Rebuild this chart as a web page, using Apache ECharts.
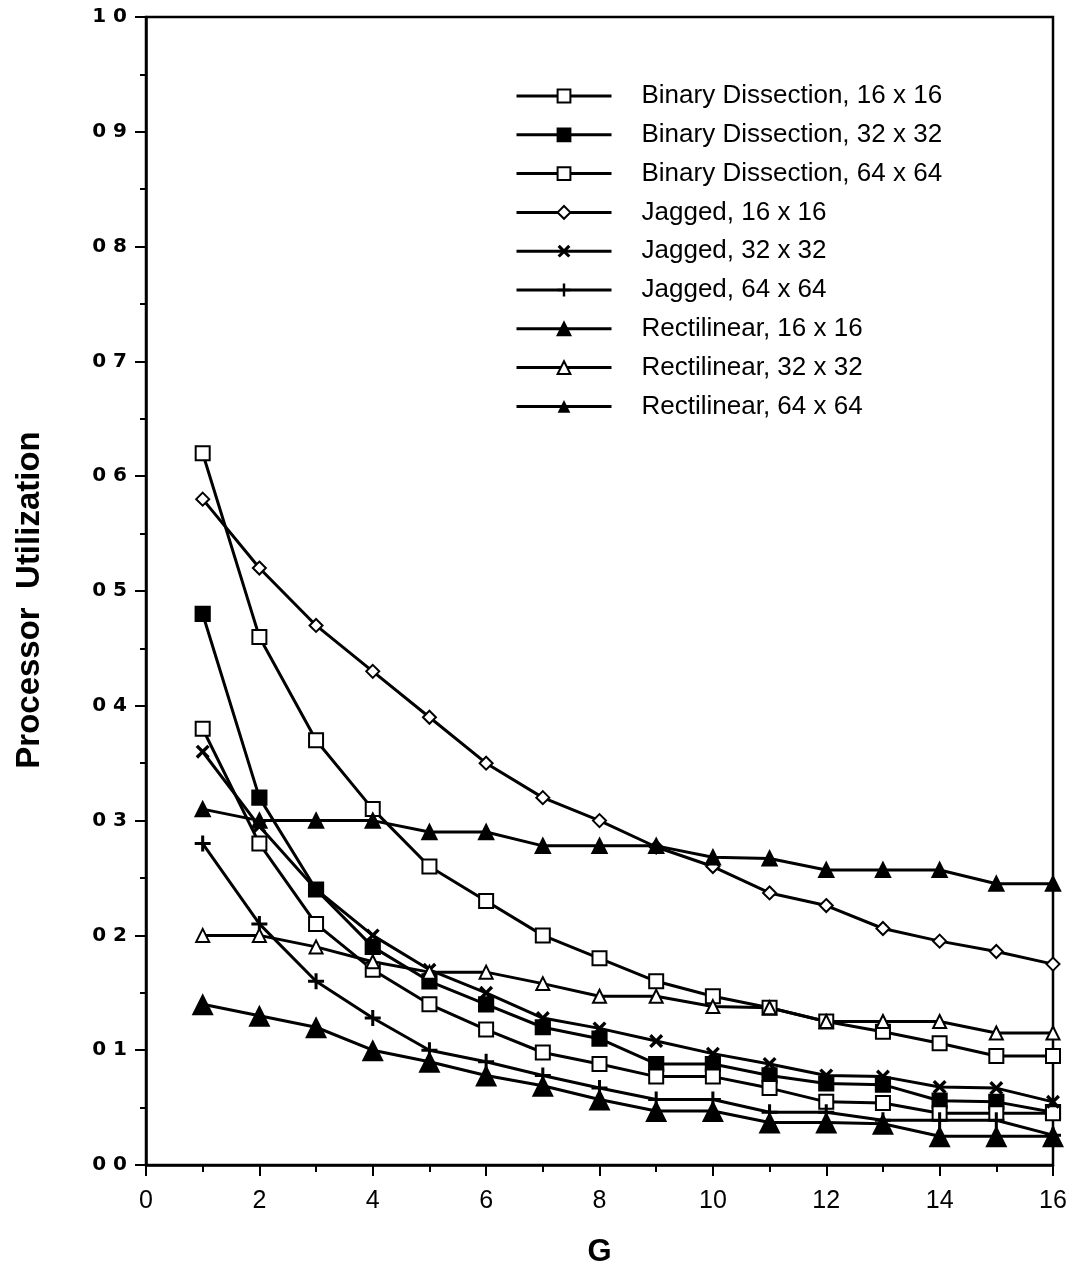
<!DOCTYPE html>
<html>
<head>
<meta charset="utf-8">
<script src="https://cdn.jsdelivr.net/npm/echarts@6/dist/echarts.min.js"></script>
<style>
  html, body { margin: 0; padding: 0; background: #fff; }
  #chart { width: 1071px; height: 1279px; }
</style>
</head>
<body>
<div id="chart"></div>
<script>
const gValues = [1, 2, 3, 4, 5, 6, 7, 8, 9, 10, 11, 12, 13, 14, 15, 16]

const binary16 = [0.62, 0.46, 0.37, 0.31, 0.26, 0.23, 0.20, 0.18, 0.16, 0.147, 0.137, 0.125, 0.116, 0.106, 0.095, 0.095]
const binary32 = [0.48, 0.32, 0.24, 0.19, 0.16, 0.14, 0.12, 0.11, 0.088, 0.088, 0.078, 0.071, 0.07, 0.056, 0.055, 0.046]
const binary64 = [0.38, 0.28, 0.21, 0.17, 0.14, 0.118, 0.098, 0.088, 0.077, 0.077, 0.067, 0.055, 0.054, 0.045, 0.045, 0.045]
const jagged16 = [0.58, 0.52, 0.47, 0.43, 0.39, 0.35, 0.32, 0.30, 0.277, 0.26, 0.237, 0.226, 0.206, 0.195, 0.186, 0.175]
const jagged32 = [0.36, 0.295, 0.24, 0.20, 0.17, 0.15, 0.128, 0.119, 0.108, 0.097, 0.088, 0.078, 0.077, 0.068, 0.067, 0.055]
const jagged64 = [0.28, 0.21, 0.16, 0.128, 0.10, 0.09, 0.078, 0.067, 0.057, 0.057, 0.046, 0.046, 0.039, 0.039, 0.039, 0.026]
const rect16 = [0.31, 0.30, 0.30, 0.30, 0.29, 0.29, 0.278, 0.278, 0.278, 0.268, 0.267, 0.257, 0.257, 0.257, 0.245, 0.245]
const rect32 = [0.20, 0.20, 0.19, 0.177, 0.168, 0.168, 0.158, 0.147, 0.147, 0.138, 0.137, 0.125, 0.125, 0.125, 0.115, 0.115]
const rect64 = [0.14, 0.13, 0.12, 0.10, 0.09, 0.078, 0.069, 0.057, 0.047, 0.047, 0.037, 0.037, 0.036, 0.025, 0.025, 0.025]

const seriesNames = [
  'Binary Dissection, 16 x 16',
  'Binary Dissection, 32 x 32',
  'Binary Dissection, 64 x 64',
  'Jagged, 16 x 16',
  'Jagged, 32 x 32',
  'Jagged, 64 x 64',
  'Rectilinear, 16 x 16',
  'Rectilinear, 32 x 32',
  'Rectilinear, 64 x 64'
]

// x and plus markers as filled outlines
const X_PATH = 'path://M0,1.7L1.7,0L5,3.3L8.3,0L10,1.7L6.7,5L10,8.3L8.3,10L5,6.7L1.7,10L0,8.3L3.3,5Z'
const PLUS_PATH = 'path://M4.05,0H5.95V4.05H10V5.95H5.95V10H4.05V5.95H0V4.05H4.05Z'

const chart = echarts.init(document.getElementById('chart'))

function makeLine(name, values, symbol, size, extra) {
  return Object.assign({
    name: name,
    type: 'line',
    data: values.map((v, i) => [gValues[i], v]),
    symbol: symbol,
    symbolSize: size,
    showSymbol: true,
    lineStyle: { color: '#000', width: 3 },
    itemStyle: { color: '#000', borderColor: '#000', borderWidth: 2.2 },
    emphasis: { disabled: true },
    animation: false,
    z: 3
  }, extra || {})
}

chart.setOption({
  backgroundColor: '#fff',
  animation: false,
  grid: {
    left: 146,
    right: 18,
    top: 17,
    bottom: 114,
    outerBoundsMode: 'none',
    containLabel: false,
    show: true,
    borderColor: '#000',
    borderWidth: 2.5
  },
  legend: {
    orient: 'vertical',
    left: 510,
    top: 78,
    itemWidth: 95,
    itemHeight: 16,
    itemGap: 12.8,
    lineStyle: { width: 3 },
    textStyle: {
      fontFamily: 'Liberation Sans, Arial, sans-serif',
      fontSize: 26,
      color: '#000',
      padding: [0, 0, 0, 25]
    },
    data: seriesNames
  },
  xAxis: {
    type: 'value',
    min: 0,
    max: 16,
    interval: 2,
    name: 'G',
    nameLocation: 'middle',
    nameGap: 72,
    nameTextStyle: {
      fontFamily: 'Liberation Sans, Arial, sans-serif',
      fontSize: 31,
      fontWeight: 'bold',
      color: '#000'
    },
    axisLine: { lineStyle: { color: '#000', width: 2.5 } },
    axisTick: { length: 11, lineStyle: { color: '#000', width: 2 } },
    minorTick: { show: true, splitNumber: 2, length: 7, lineStyle: { color: '#000', width: 2 } },
    axisLabel: {
      margin: 24,
      fontFamily: 'Liberation Sans, Arial, sans-serif',
      fontSize: 25,
      color: '#000'
    },
    splitLine: { show: false }
  },
  yAxis: {
    type: 'value',
    min: 0,
    max: 1,
    interval: 0.1,
    name: 'Processor  Utilization',
    nameLocation: 'middle',
    nameGap: 100,
    nameTextStyle: {
      fontFamily: 'Liberation Sans, Arial, sans-serif',
      fontSize: 33,
      fontWeight: 'bold',
      color: '#000',
      padding: [0, 18, 0, 0]
    },
    axisLine: { lineStyle: { color: '#000', width: 2.5 } },
    axisTick: { length: 11, lineStyle: { color: '#000', width: 2 } },
    minorTick: { show: true, splitNumber: 2, length: 6, lineStyle: { color: '#000', width: 2 } },
    axisLabel: {
      margin: 19,
      fontFamily: 'DejaVu Sans, sans-serif',
      fontSize: 20,
      fontWeight: 'bold',
      color: '#000',
      formatter: v => v.toFixed(1).replace('.', ' ')
    },
    splitLine: { show: false }
  },
  series: [
    makeLine(seriesNames[0], binary16, 'emptyRect', 14),
    makeLine(seriesNames[1], binary32, 'rect', 14),
    makeLine(seriesNames[2], binary64, 'emptyRect', 14),
    makeLine(seriesNames[3], jagged16, 'emptyDiamond', 13),
    makeLine(seriesNames[4], jagged32, X_PATH, 14, { itemStyle: { color: '#000', borderWidth: 0 } }),
    makeLine(seriesNames[5], jagged64, PLUS_PATH, 16, { itemStyle: { color: '#000', borderWidth: 0 } }),
    makeLine(seriesNames[6], rect16, 'triangle', 14),
    makeLine(seriesNames[7], rect32, 'emptyTriangle', 13),
    makeLine(seriesNames[8], rect64, 'triangle', 22, { itemStyle: { color: '#000', borderWidth: 0 } })
  ]
})
</script>
</body>
</html>
